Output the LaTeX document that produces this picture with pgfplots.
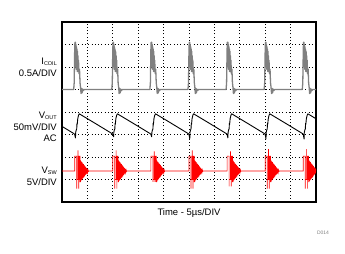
\documentclass[border=0pt]{standalone}
\usepackage{fontspec}
\setmainfont{Liberation Sans}
\usepackage{pgfplots}
\pgfplotsset{compat=1.18}
\definecolor{icoil}{RGB}{128,128,128}
\begin{document}
\begin{tikzpicture}
\useasboundingbox (0bp,0bp) rectangle (345bp,254bp);
\begin{axis}[at={(62bp,52bp)}, anchor=south west,
  width=254bp, height=180bp, scale only axis,
  xmin=0, xmax=10, ymin=0, ymax=8,
  xtick={1,...,9}, ytick={1,...,7},
  xticklabels={}, yticklabels={},
  major tick length=0pt,
  grid=major,
  major grid style={black, line width=0.8pt, dash pattern=on 0.9pt off 2.4pt},
  axis line style={line width=1.5pt},
  clip=true]
% I_COIL
\addplot[icoil, line width=1.3pt, line join=round] coordinates {
(0,5)
(0.46,5.0) (0.48,5.3) (0.50,6.8) (0.51,7.1) (0.52,6.2) (0.53,7.1) (0.54,6.0) (0.55,7.0) (0.56,5.9) (0.57,6.9) (0.58,5.9) (0.59,6.8) (0.60,5.8) (0.61,6.7) (0.62,5.8) (0.63,6.5) (0.64,5.8) (0.65,6.3) (0.67,5.7) (0.69,5.9) (0.71,5.3) (0.73,5.1) (0.75,4.82) (0.77,5.05) (0.79,4.85) (0.81,5.02) (0.84,4.95) (0.87,5.0)
(1.96,5.0) (1.98,5.3) (2.00,6.8) (2.01,7.1) (2.02,6.2) (2.03,7.1) (2.04,6.0) (2.05,7.0) (2.06,5.9) (2.07,6.9) (2.08,5.9) (2.09,6.8) (2.10,5.8) (2.11,6.7) (2.12,5.8) (2.13,6.5) (2.14,5.8) (2.15,6.3) (2.17,5.7) (2.19,5.9) (2.21,5.3) (2.23,5.1) (2.25,4.82) (2.27,5.05) (2.29,4.85) (2.31,5.02) (2.34,4.95) (2.37,5.0)
(3.46,5.0) (3.48,5.3) (3.50,6.8) (3.51,7.1) (3.52,6.2) (3.53,7.1) (3.54,6.0) (3.55,7.0) (3.56,5.9) (3.57,6.9) (3.58,5.9) (3.59,6.8) (3.60,5.8) (3.61,6.7) (3.62,5.8) (3.63,6.5) (3.64,5.8) (3.65,6.3) (3.67,5.7) (3.69,5.9) (3.71,5.3) (3.73,5.1) (3.75,4.82) (3.77,5.05) (3.79,4.85) (3.81,5.02) (3.84,4.95) (3.87,5.0)
(4.96,5.0) (4.98,5.3) (5.00,6.8) (5.01,7.1) (5.02,6.2) (5.03,7.1) (5.04,6.0) (5.05,7.0) (5.06,5.9) (5.07,6.9) (5.08,5.9) (5.09,6.8) (5.10,5.8) (5.11,6.7) (5.12,5.8) (5.13,6.5) (5.14,5.8) (5.15,6.3) (5.17,5.7) (5.19,5.9) (5.21,5.3) (5.23,5.1) (5.25,4.82) (5.27,5.05) (5.29,4.85) (5.31,5.02) (5.34,4.95) (5.37,5.0)
(6.46,5.0) (6.48,5.3) (6.50,6.8) (6.51,7.1) (6.52,6.2) (6.53,7.1) (6.54,6.0) (6.55,7.0) (6.56,5.9) (6.57,6.9) (6.58,5.9) (6.59,6.8) (6.60,5.8) (6.61,6.7) (6.62,5.8) (6.63,6.5) (6.64,5.8) (6.65,6.3) (6.67,5.7) (6.69,5.9) (6.71,5.3) (6.73,5.1) (6.75,4.82) (6.77,5.05) (6.79,4.85) (6.81,5.02) (6.84,4.95) (6.87,5.0)
(7.96,5.0) (7.98,5.3) (8.00,6.8) (8.01,7.1) (8.02,6.2) (8.03,7.1) (8.04,6.0) (8.05,7.0) (8.06,5.9) (8.07,6.9) (8.08,5.9) (8.09,6.8) (8.10,5.8) (8.11,6.7) (8.12,5.8) (8.13,6.5) (8.14,5.8) (8.15,6.3) (8.17,5.7) (8.19,5.9) (8.21,5.3) (8.23,5.1) (8.25,4.82) (8.27,5.05) (8.29,4.85) (8.31,5.02) (8.34,4.95) (8.37,5.0)
(9.46,5.0) (9.48,5.3) (9.50,6.8) (9.51,7.1) (9.52,6.2) (9.53,7.1) (9.54,6.0) (9.55,7.0) (9.56,5.9) (9.57,6.9) (9.58,5.9) (9.59,6.8) (9.60,5.8) (9.61,6.7) (9.62,5.8) (9.63,6.5) (9.64,5.8) (9.65,6.3) (9.67,5.7) (9.69,5.9) (9.71,5.3) (9.73,5.1) (9.75,4.82) (9.77,5.05) (9.79,4.85) (9.81,5.02) (9.84,4.95) (9.87,5.0) (10,5.0)
};
% V_OUT
\addplot[black, line width=0.9pt, line join=round] coordinates {
(0,3.36) (0.47,3.04)
(0.50,3.0) (0.53,2.85) (0.54,3.1) (0.56,3.2) (0.58,3.25) (0.59,3.5) (0.60,3.45) (0.62,3.7) (0.65,3.85) (0.68,3.92) (1.30,3.50) (1.97,3.04)
(2.00,3.0) (2.03,2.9) (2.04,3.1) (2.06,3.2) (2.08,3.25) (2.09,3.5) (2.10,3.45) (2.12,3.7) (2.15,3.85) (2.18,3.92) (2.80,3.50) (3.47,3.04)
(3.50,3.0) (3.53,2.9) (3.54,3.1) (3.56,3.2) (3.58,3.25) (3.59,3.5) (3.60,3.45) (3.62,3.7) (3.65,3.85) (3.68,3.92) (4.30,3.50) (4.97,3.04)
(5.00,3.0) (5.03,2.8) (5.04,3.1) (5.06,3.2) (5.08,3.25) (5.09,3.5) (5.10,3.45) (5.12,3.7) (5.15,3.85) (5.18,3.92) (5.80,3.50) (6.47,3.04)
(6.50,3.0) (6.53,2.85) (6.54,3.1) (6.56,3.2) (6.58,3.25) (6.59,3.5) (6.60,3.45) (6.62,3.7) (6.65,3.85) (6.68,3.92) (7.30,3.50) (7.97,3.04)
(8.00,3.0) (8.03,2.8) (8.04,3.1) (8.06,3.2) (8.08,3.25) (8.09,3.5) (8.10,3.45) (8.12,3.7) (8.15,3.85) (8.18,3.92) (8.80,3.50) (9.47,3.04)
(9.50,3.0) (9.53,2.8) (9.54,3.1) (9.56,3.2) (9.58,3.25) (9.59,3.5) (9.60,3.45) (9.62,3.7) (9.65,3.85) (9.68,3.92) (10,3.70)
};
% V_SW
\addplot[red, line width=0.7pt] coordinates {
(0,1.38)
(0.50,1.38) (0.50,2.04) (0.58,2.04) (0.58,0.6) (0.58,1.0) (0.63,1.0) (0.63,2.3) (0.63,2.04) (0.66,2.04) (0.66,0.6) (0.66,1.0) (0.69,1.0) (0.69,2.04) (0.71,2.04) (0.71,0.9) (0.73,0.9) (0.73,1.85)
(0.74,0.93) (0.755,1.81) (0.77,0.97) (0.785,1.77) (0.80,1.02) (0.815,1.72) (0.83,1.06) (0.845,1.68) (0.86,1.10) (0.875,1.64) (0.89,1.14) (0.905,1.59) (0.92,1.19) (0.935,1.55) (0.95,1.23) (0.965,1.51) (0.98,1.27) (0.995,1.47) (1.01,1.32) (1.025,1.42) (1.04,1.36) (1.055,1.38)
(2.00,1.38) (2.00,2.04) (2.08,2.04) (2.08,0.6) (2.08,1.0) (2.13,1.0) (2.13,2.3) (2.13,2.04) (2.16,2.04) (2.16,0.6) (2.16,1.0) (2.19,1.0) (2.19,2.04) (2.21,2.04) (2.21,0.9) (2.23,0.9) (2.23,1.85)
(2.24,0.93) (2.255,1.81) (2.27,0.97) (2.285,1.77) (2.30,1.02) (2.315,1.72) (2.33,1.06) (2.345,1.68) (2.36,1.10) (2.375,1.64) (2.39,1.14) (2.405,1.59) (2.42,1.19) (2.435,1.55) (2.45,1.23) (2.465,1.51) (2.48,1.27) (2.495,1.47) (2.51,1.32) (2.525,1.42) (2.54,1.36) (2.555,1.38)
(3.50,1.38) (3.50,2.04) (3.58,2.04) (3.58,0.9) (3.58,1.0) (3.63,1.0) (3.63,2.25) (3.63,2.04) (3.66,2.04) (3.66,0.9) (3.66,1.0) (3.69,1.0) (3.69,2.04) (3.71,2.04) (3.71,0.9) (3.73,0.9) (3.73,1.85)
(3.74,0.93) (3.755,1.81) (3.77,0.97) (3.785,1.77) (3.80,1.02) (3.815,1.72) (3.83,1.06) (3.845,1.68) (3.86,1.10) (3.875,1.64) (3.89,1.14) (3.905,1.59) (3.92,1.19) (3.935,1.55) (3.95,1.23) (3.965,1.51) (3.98,1.27) (3.995,1.47) (4.01,1.32) (4.025,1.42) (4.04,1.36) (4.055,1.38)
(5.00,1.38) (5.00,2.04) (5.08,2.04) (5.08,0.6) (5.08,1.0) (5.13,1.0) (5.13,2.3) (5.13,2.04) (5.16,2.04) (5.16,0.6) (5.16,1.0) (5.19,1.0) (5.19,2.04) (5.21,2.04) (5.21,0.9) (5.23,0.9) (5.23,1.85)
(5.24,0.93) (5.255,1.81) (5.27,0.97) (5.285,1.77) (5.30,1.02) (5.315,1.72) (5.33,1.06) (5.345,1.68) (5.36,1.10) (5.375,1.64) (5.39,1.14) (5.405,1.59) (5.42,1.19) (5.435,1.55) (5.45,1.23) (5.465,1.51) (5.48,1.27) (5.495,1.47) (5.51,1.32) (5.525,1.42) (5.54,1.36) (5.555,1.38)
(6.50,1.38) (6.50,2.04) (6.58,2.04) (6.58,0.7) (6.58,1.0) (6.63,1.0) (6.63,2.25) (6.63,2.04) (6.66,2.04) (6.66,0.7) (6.66,1.0) (6.69,1.0) (6.69,2.04) (6.71,2.04) (6.71,0.9) (6.73,0.9) (6.73,1.85)
(6.74,0.93) (6.755,1.81) (6.77,0.97) (6.785,1.77) (6.80,1.02) (6.815,1.72) (6.83,1.06) (6.845,1.68) (6.86,1.10) (6.875,1.64) (6.89,1.14) (6.905,1.59) (6.92,1.19) (6.935,1.55) (6.95,1.23) (6.965,1.51) (6.98,1.27) (6.995,1.47) (7.01,1.32) (7.025,1.42) (7.04,1.36) (7.055,1.38)
(8.00,1.38) (8.00,2.04) (8.08,2.04) (8.08,0.6) (8.08,1.0) (8.13,1.0) (8.13,2.35) (8.13,2.04) (8.16,2.04) (8.16,0.6) (8.16,1.0) (8.19,1.0) (8.19,2.04) (8.21,2.04) (8.21,0.9) (8.23,0.9) (8.23,1.85)
(8.24,0.93) (8.255,1.81) (8.27,0.97) (8.285,1.77) (8.30,1.02) (8.315,1.72) (8.33,1.06) (8.345,1.68) (8.36,1.10) (8.375,1.64) (8.39,1.14) (8.405,1.59) (8.42,1.19) (8.435,1.55) (8.45,1.23) (8.465,1.51) (8.48,1.27) (8.495,1.47) (8.51,1.32) (8.525,1.42) (8.54,1.36) (8.555,1.38)
(9.50,1.38) (9.50,2.04) (9.58,2.04) (9.58,0.6) (9.58,1.0) (9.63,1.0) (9.63,2.35) (9.63,2.04) (9.66,2.04) (9.66,0.6) (9.66,1.0) (9.69,1.0) (9.69,2.04) (9.71,2.04) (9.71,0.9) (9.73,0.9) (9.73,1.85)
(9.74,0.93) (9.755,1.81) (9.77,0.97) (9.785,1.77) (9.80,1.02) (9.815,1.72) (9.83,1.06) (9.845,1.68) (9.86,1.10) (9.875,1.64) (9.89,1.14) (9.905,1.59) (9.92,1.19) (9.935,1.55) (9.95,1.23) (9.965,1.51) (9.98,1.27) (9.995,1.47) (10,1.38)
};
\end{axis}
\tikzset{lab/.style={anchor=east, inner sep=0pt, font=\fontsize{9.5}{10}\selectfont}}
\newcommand{\sub}[1]{\raisebox{-0.6pt}{\fontsize{5.5}{6}\selectfont #1}}
\node[lab] at (57bp,192bp) {I\sub{COIL}};
\node[lab] at (57bp,181.3bp) {0.5A/DIV};
\node[lab] at (57bp,138.5bp) {V\sub{OUT}};
\node[lab] at (57bp,127.3bp) {50mV/DIV};
\node[lab] at (57bp,115.7bp) {AC};
\node[lab] at (57bp,83.3bp) {V\sub{SW}};
\node[lab] at (57bp,72.3bp) {5V/DIV};
\node[inner sep=0pt, font=\fontsize{9.5}{10}\selectfont] at (189bp,40.7bp) {Time - 5µs/DIV};
\node[inner sep=0pt, text=gray, font=\fontsize{5}{6}\selectfont] at (323bp,21bp) {D014};
\end{tikzpicture}
\end{document}
